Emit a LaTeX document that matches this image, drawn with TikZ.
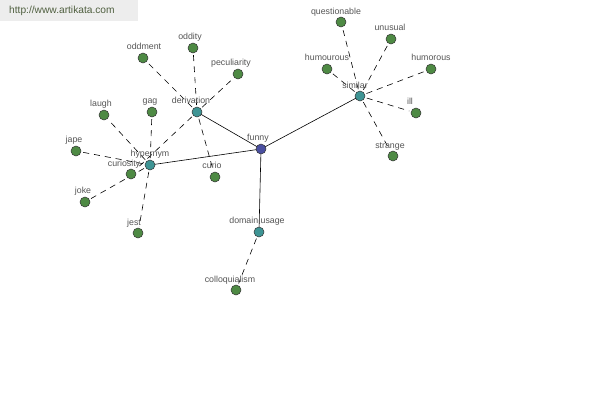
\documentclass[tikz,border=0pt]{standalone}
\usepackage{fontspec}
\setmainfont{Liberation Sans}
\definecolor{leaf}{HTML}{4E8A44}
\definecolor{mid}{HTML}{3E9494}
\definecolor{root}{HTML}{4A4FA0}
\definecolor{txt}{HTML}{555555}
\definecolor{wm}{HTML}{EDEDED}
\definecolor{wmtxt}{HTML}{4F5F3F}
\tikzset{
  leafnode/.style={circle,draw=black!80,fill=leaf,line width=0.5pt,minimum size=10pt,inner sep=0pt},
  midnode/.style={circle,draw=black!80,fill=mid,line width=0.5pt,minimum size=10pt,inner sep=0pt},
  rootnode/.style={circle,draw=black!80,fill=root,line width=0.5pt,minimum size=10pt,inner sep=0pt},
  lab/.style={text=txt,font=\fontsize{8.8}{10}\selectfont,inner sep=0pt,anchor=base},
  solidedge/.style={draw=black,line width=0.6pt},
  dashedge/.style={draw=black,line width=0.6pt,dash pattern=on 6pt off 5pt,shorten <=7pt,shorten >=7pt},
}
\begin{document}
\begin{tikzpicture}[x=1pt,y=-1pt]
\useasboundingbox[fill=white] (0,0) rectangle (600,400);
\fill[wm] (0,0) rectangle (138,21);
\node[text=wmtxt,font=\fontsize{10.2}{12}\selectfont,anchor=west,inner sep=0pt] (wmark) at (9,11) {http://www.artikata.com};
% positions
\coordinate (funny) at (261,149);
\coordinate (derivation) at (197,112);
\coordinate (hypernym) at (150,165);
\coordinate (similar) at (360,96);
\coordinate (domain) at (259,232);
\coordinate (oddment) at (143,58);
\coordinate (oddity) at (193,48);
\coordinate (peculiarity) at (238,74);
\coordinate (laugh) at (104,115);
\coordinate (gag) at (152,112);
\coordinate (jape) at (76,151);
\coordinate (curiosity) at (131,174);
\coordinate (joke) at (85,202);
\coordinate (jest) at (138,233);
\coordinate (curio) at (215,177);
\coordinate (questionable) at (341,22);
\coordinate (unusual) at (391,39);
\coordinate (humourous) at (327,69);
\coordinate (humorous) at (431,69);
\coordinate (ill) at (416,113);
\coordinate (strange) at (393,156);
\coordinate (colloquialism) at (236,290);
% edges
\draw[solidedge] (funny) -- (derivation);
\draw[solidedge] (funny) -- (hypernym);
\draw[solidedge] (funny) -- (similar);
\draw[solidedge] (funny) -- (domain);
\foreach \t in {oddment,oddity,peculiarity,curio,curiosity}
  \draw[dashedge] (derivation) -- (\t);
\foreach \t in {laugh,gag,jape,joke,jest}
  \draw[dashedge] (hypernym) -- (\t);
\foreach \t in {questionable,unusual,humourous,humorous,ill,strange}
  \draw[dashedge] (similar) -- (\t);
\draw[dashedge] (domain) -- (colloquialism);
% labels
\node[lab] (l-funny) at (258,140) {funny};
\node[lab] (l-derivation) at (191,103) {derivation};
\node[lab] (l-hypernym) at (150,156) {hypernym};
\node[lab] (l-similar) at (355,88) {similar};
\node[lab] (l-domain) at (257,223) {domain usage};
\node[lab] (l-oddment) at (144,49) {oddment};
\node[lab] (l-oddity) at (190,39) {oddity};
\node[lab] (l-peculiarity) at (231,65) {peculiarity};
\node[lab] (l-laugh) at (101,106) {laugh};
\node[lab] (l-gag) at (150,103) {gag};
\node[lab] (l-jape) at (74,142) {jape};
\node[lab] (l-curiosity) at (124,166) {curiosity};
\node[lab] (l-joke) at (83,193) {joke};
\node[lab] (l-jest) at (134,225) {jest};
\node[lab] (l-curio) at (212,168) {curio};
\node[lab] (l-questionable) at (336,14) {questionable};
\node[lab] (l-unusual) at (390,30) {unusual};
\node[lab] (l-humourous) at (327,60) {humourous};
\node[lab] (l-humorous) at (431,60) {humorous};
\node[lab] (l-ill) at (410,104) {ill};
\node[lab] (l-strange) at (390,148) {strange};
\node[lab] (l-colloquialism) at (230,282) {colloquialism};
% nodes
\node[rootnode] (n-funny) at (funny) {};
\node[midnode] (n-derivation) at (derivation) {};
\node[midnode] (n-hypernym) at (hypernym) {};
\node[midnode] (n-similar) at (similar) {};
\node[midnode] (n-domain) at (domain) {};
\foreach \t in {oddment,oddity,peculiarity,laugh,gag,jape,curiosity,joke,jest,curio,questionable,unusual,humourous,humorous,ill,strange,colloquialism}
  \node[leafnode] (n-\t) at (\t) {};
\end{tikzpicture}
\end{document}
